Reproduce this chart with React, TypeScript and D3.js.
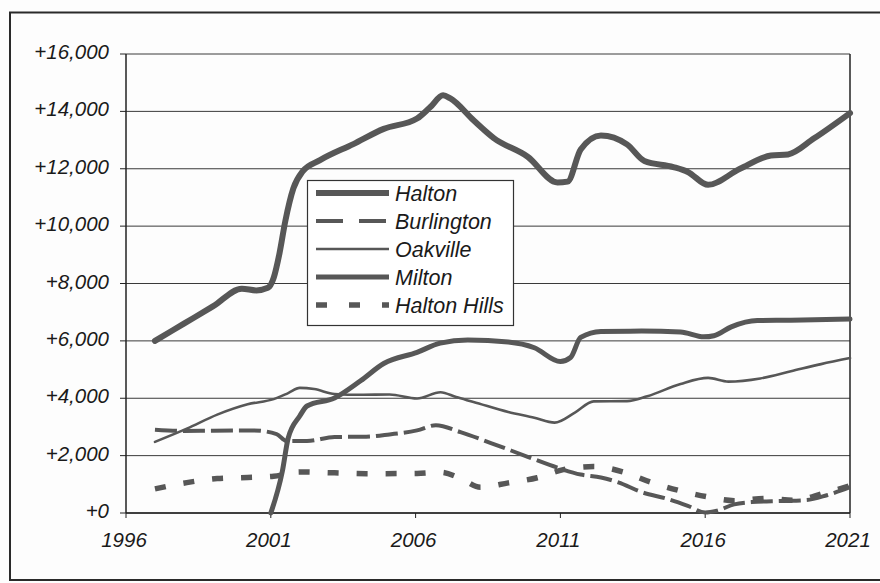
import React from "react";
import * as d3 from "d3";

type Pt = [number, number];

// Annual population growth by municipality (year, persons added)
const halton: Pt[] = [
  [1997, 6000], [1998, 6600], [1999, 7200], [2000, 7820], [2000.5, 7760], [2000.9, 7850],
  [2001.1, 8200], [2001.3, 9050], [2001.5, 10170], [2001.78, 11320], [2002.1, 11910],
  [2002.7, 12300], [2003.85, 12860], [2004.9, 13390], [2006.05, 13750], [2006.5, 14140],
  [2006.95, 14560], [2007.2, 14450], [2008.0, 13690], [2008.7, 13070], [2009.87, 12420],
  [2010.9, 11520], [2011.25, 11550], [2011.7, 12670], [2012.4, 13160], [2013.3, 12850],
  [2013.9, 12270], [2014.9, 12060], [2015.4, 11890], [2016.1, 11440], [2017.2, 12000],
  [2018.27, 12460], [2018.86, 12500], [2019.76, 13060], [2021, 13940],
];

const burlington: Pt[] = [
  [1997, 2900], [1998, 2860], [1999, 2870], [2000.4, 2880], [2001.2, 2750], [2001.55, 2510],
  [2002.25, 2510], [2003.2, 2650], [2004.3, 2660], [2005.1, 2740], [2006.05, 2880],
  [2006.7, 3060], [2007.55, 2820], [2008.6, 2440], [2009.87, 1960], [2010.9, 1580],
  [2011.7, 1340], [2012.4, 1240], [2013.0, 1070], [2013.8, 730], [2014.7, 490], [2015.4, 250],
  [2016.0, 20], [2016.4, 80], [2017.0, 300], [2017.6, 380], [2018.6, 420], [2019.5, 450],
  [2020.2, 620], [2021, 900],
];

const oakville: Pt[] = [
  [1997, 2480], [1998.1, 2940], [1999.15, 3430], [2000.2, 3790], [2001.1, 3970], [2001.6, 4180],
  [2002.0, 4360], [2002.5, 4320], [2003.2, 4150], [2004.1, 4120], [2005.1, 4130],
  [2006.05, 3990], [2006.86, 4210], [2007.4, 4040], [2008.0, 3870], [2009.2, 3520],
  [2010.1, 3320], [2010.8, 3150], [2011.5, 3500], [2012.15, 3890], [2013.3, 3900],
  [2014.0, 4070], [2015.15, 4500], [2016.1, 4710], [2016.8, 4580], [2017.9, 4690],
  [2018.96, 4940], [2020.0, 5190], [2021, 5400],
];

const milton: Pt[] = [
  [2001.0, 0], [2001.4, 1460], [2001.6, 2610], [2002.0, 3380], [2002.25, 3730], [2003.2, 4010],
  [2004.1, 4610], [2004.9, 5210], [2006.05, 5600], [2006.85, 5920], [2007.8, 6030],
  [2009.2, 5960], [2010.1, 5760], [2011.0, 5280], [2011.35, 5420], [2011.7, 6120],
  [2012.4, 6330], [2013.8, 6340], [2015.15, 6310], [2015.95, 6140], [2016.3, 6180],
  [2016.9, 6490], [2017.8, 6710], [2018.96, 6720], [2021, 6760],
];

const haltonHills: Pt[] = [
  [1997, 840], [1998.1, 1060], [1999.15, 1200], [2000.2, 1240], [2001.1, 1280], [2002.0, 1430],
  [2003.2, 1400], [2004.3, 1370], [2006.05, 1380], [2006.86, 1420], [2007.55, 1210],
  [2008.24, 900], [2009.2, 1050], [2010.2, 1230], [2011.1, 1510], [2012.15, 1620],
  [2013.2, 1420], [2014.1, 1080], [2015.15, 770], [2016.1, 560], [2017.0, 430],
  [2018.16, 510], [2019.06, 440], [2020.1, 690], [2021, 950],
];

const seriesNames = ["Halton", "Burlington", "Oakville", "Milton", "Halton Hills"];
const yTicks = [0, 2000, 4000, 6000, 8000, 10000, 12000, 14000, 16000];
const xTicks = [1996, 2001, 2006, 2011, 2016, 2021];

const W = 880;
const H = 583;
const plot = { left: 126, right: 850, top: 54, bottom: 513 };
const ink = "#222";
const lineColor = "#575757";
const font = "'Liberation Sans', Arial, sans-serif";

const styles = [
  { width: 6, dash: undefined as string | undefined, legendDash: undefined as string | undefined, cap: "round" },
  { width: 4, dash: "22 6", legendDash: "27 16", cap: "butt" },
  { width: 2.6, dash: undefined, legendDash: undefined, cap: "round" },
  { width: 5, dash: undefined, legendDash: undefined, cap: "round" },
  { width: 5.5, dash: "11 18", legendDash: "11 22", cap: "butt" },
];

export default function App() {
  const x = d3.scaleLinear().domain([1996, 2021]).range([plot.left, plot.right]);
  const y = d3.scaleLinear().domain([0, 16000]).range([plot.bottom, plot.top]);
  const line = d3
    .line<Pt>()
    .x((d) => x(d[0]))
    .y((d) => y(d[1]))
    .curve(d3.curveMonotoneX);
  const fmt = d3.format("+,");
  const series = [halton, burlington, oakville, milton, haltonHills];

  const legend = { x: 307.5, y: 180.5, w: 206, h: 145, row0: 193, step: 28 };

  return (
    <svg
      width={W}
      height={H}
      viewBox={`0 0 ${W} ${H}`}
      style={{ position: "absolute", left: 0, top: 0, background: "#fff" }}
      fontFamily={font}
    >
      <rect x={0} y={0} width={W} height={H} fill="#fdfdfd" />
      {/* outer chart frame, open on the right where it runs past the page */}
      <rect x={10} y={12.5} width={W + 20} height={567.5} fill="none" stroke="#2a2a2a" strokeWidth={2} />

      {/* horizontal gridlines and y ticks */}
      {yTicks.map((v) => (
        <g key={v}>
          <line x1={plot.left} x2={plot.right} y1={y(v)} y2={y(v)} stroke="#3a3a3a" strokeWidth={1} />
          <line x1={plot.left - 6} x2={plot.left} y1={y(v)} y2={y(v)} stroke={ink} strokeWidth={1} />
          <text
            x={109}
            y={y(v) + 5}
            textAnchor="end"
            fontSize={20.5}
            fontStyle="italic"
            fill="#1a1a1a"
          >
            {fmt(v)}
          </text>
        </g>
      ))}

      {/* plot border */}
      <line x1={plot.left} x2={plot.left} y1={plot.top} y2={plot.bottom} stroke={ink} strokeWidth={1.5} />
      <line x1={plot.right} x2={plot.right} y1={plot.top} y2={plot.bottom} stroke={ink} strokeWidth={1.5} />
      <line x1={plot.left} x2={plot.right} y1={plot.bottom} y2={plot.bottom} stroke={ink} strokeWidth={1.5} />

      {/* x ticks and labels */}
      {xTicks.map((t) => (
        <g key={t}>
          <line x1={x(t)} x2={x(t)} y1={plot.bottom} y2={plot.bottom + 5} stroke={ink} strokeWidth={1} />
          <text
            x={x(t) - 2}
            y={plot.bottom + 34}
            textAnchor="middle"
            fontSize={20.5}
            fontStyle="italic"
            fill="#1a1a1a"
          >
            {t}
          </text>
        </g>
      ))}

      {/* series lines */}
      {series.map((s, i) => (
        <path
          key={seriesNames[i]}
          d={line(s) ?? ""}
          fill="none"
          stroke={lineColor}
          strokeWidth={styles[i].width}
          strokeDasharray={styles[i].dash}
          strokeLinecap={styles[i].cap as any}
          strokeLinejoin="round"
        />
      ))}

      {/* legend */}
      <rect x={legend.x} y={legend.y} width={legend.w} height={legend.h} fill="#fff" stroke="#333" strokeWidth={1.2} />
      {seriesNames.map((name, i) => {
        const ry = legend.row0 + i * legend.step;
        return (
          <g key={name}>
            <line
              x1={316}
              x2={389}
              y1={ry}
              y2={ry}
              stroke={lineColor}
              strokeWidth={styles[i].width}
              strokeDasharray={styles[i].legendDash}
              strokeLinecap="butt"
            />
            <text x={395} y={ry + 8} fontSize={21.5} fontStyle="italic" fill="#1a1a1a">
              {name}
            </text>
          </g>
        );
      })}
    </svg>
  );
}
